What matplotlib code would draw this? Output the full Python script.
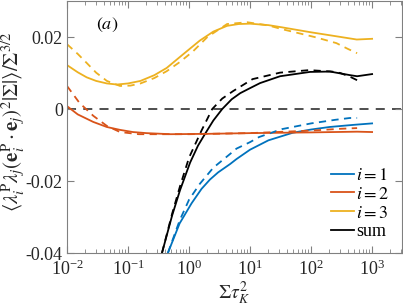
import numpy as np
import matplotlib
matplotlib.use('Agg')
import matplotlib.pyplot as plt

plt.rcParams['font.family'] = ['Liberation Serif', 'DejaVu Serif']
plt.rcParams['mathtext.fontset'] = 'stix'

# values (x = Sigma tau_K^2)
x1 = [0.45, 0.7, 1.1, 1.6, 2.2, 3.0, 4.7, 6.0, 10, 20, 50, 100, 200, 500, 1000]
y1 = [-0.04, -0.0318, -0.0262, -0.0222, -0.0196, -0.0176, -0.0153, -0.0139, -0.0113,
      -0.0087, -0.0066, -0.0057, -0.0050, -0.0044, -0.0040]
x1d = [0.45, 0.7, 1.0, 1.5, 2.5, 4.7, 6.0, 10, 14, 33, 100, 250, 430, 568]
y1d = [-0.04, -0.031, -0.0252, -0.0208, -0.0163, -0.0125, -0.011, -0.0092, -0.0078,
       -0.0056, -0.004, -0.003, -0.0025, -0.0025]

x2 = [0.01, 0.015, 0.027, 0.045, 0.074, 0.12, 0.2, 0.5, 2, 10, 100, 568, 1000]
y2 = [0.0008, -0.0015, -0.0036, -0.0050, -0.0058, -0.0064, -0.0067, -0.0070, -0.0069,
      -0.0067, -0.0065, -0.0063, -0.0064]
x2d = [0.01, 0.016, 0.027, 0.045, 0.074, 0.15, 1, 10, 100, 300, 568]
y2d = [0.0064, 0.0017, -0.0019, -0.0047, -0.0064, -0.0070, -0.0070, -0.0067, -0.006,
       -0.0055, -0.0053]

x3 = [0.01, 0.015, 0.021, 0.03, 0.045, 0.066, 0.1, 0.16, 0.27, 0.43, 0.8, 1.5, 2.5,
      4.2, 6.5, 10, 20, 33, 100, 200, 560, 1000]
y3 = [0.0122, 0.0102, 0.0088, 0.0078, 0.0071, 0.0068, 0.0071, 0.0078, 0.0094, 0.0114,
      0.0152, 0.0190, 0.0215, 0.0231, 0.0236, 0.0237, 0.0233, 0.0227, 0.0213, 0.0205,
      0.0193, 0.0195]
x3d = [0.01, 0.015, 0.021, 0.03, 0.045, 0.074, 0.11, 0.16, 0.27, 0.43, 0.7, 1.16, 2.0,
       4.2, 9, 20, 33, 120, 260, 400, 568]
y3d = [0.018, 0.0153, 0.0128, 0.0101, 0.0078, 0.0064, 0.0065, 0.0071, 0.0086, 0.0105,
       0.0130, 0.0160, 0.0200, 0.0236, 0.0241, 0.0232, 0.0222, 0.0199, 0.0183, 0.0167, 0.0155]

xs = [0.36, 0.53, 0.71, 1.04, 1.4, 1.83, 2.5, 3.5, 5.0, 6.9, 10, 14.6, 31, 96, 204,
      436, 568, 1000]
ys = [-0.04, -0.0295, -0.0226, -0.0149, -0.0102, -0.0069, -0.0032, 0.0, 0.0027, 0.0044,
      0.0058, 0.0072, 0.0091, 0.0103, 0.0104, 0.0094, 0.0091, 0.0097]
xsd = [0.36, 0.53, 0.71, 1.0, 1.6, 2.4, 3.5, 5.3, 11, 31, 93, 220, 300, 430, 568]
ysd = [-0.04, -0.029, -0.0215, -0.0135, -0.006, 0.0, 0.0029, 0.005, 0.0083, 0.0101,
       0.0108, 0.0104, 0.0100, 0.009, 0.008]

blue, red, yellow = '#0072BD', '#D95319', '#EDB120'

fig = plt.figure(figsize=(4.03, 3.07), dpi=100)
ax = fig.add_axes([67 / 403, 54 / 307, 335 / 403, 252 / 307])

ax.axhline(0, color='0.25', lw=1.3, ls=(0, (5, 4)), zorder=1)

lw = 1.3
ax.plot(x1, y1, color=blue, lw=lw, label='$i=1$')
ax.plot(x2, y2, color=red, lw=lw, label='$i=2$')
ax.plot(x3, y3, color=yellow, lw=lw, label='$i=3$')
ax.plot(xs, ys, color='black', lw=lw, label='sum')
ax.plot(x1d, y1d, color=blue, lw=lw, ls=(0, (4, 3)))
ax.plot(x2d, y2d, color=red, lw=lw, ls=(0, (4, 3)))
ax.plot(x3d, y3d, color=yellow, lw=lw, ls=(0, (4, 3)))
ax.plot(xsd, ysd, color='black', lw=lw, ls=(0, (4, 3)))

ax.set_xscale('log')
ax.set_xlim(1e-2, 10 ** 3.49)
ax.set_ylim(-0.04, 0.03)
ax.set_yticks([-0.04, -0.02, 0, 0.02])
ax.set_yticklabels(['-0.04', '-0.02', '0', '0.02'])
ax.set_xticks([1e-2, 1e-1, 1e0, 1e1, 1e2, 1e3])

for s in ax.spines.values():
    s.set_color('0.5')
    s.set_linewidth(0.8)
ax.tick_params(which='both', direction='in', top=True, right=True, color='0.5',
               labelcolor='0.15', labelsize=13)
ax.tick_params(which='major', length=5, width=0.8, pad=3)
ax.tick_params(which='minor', length=2.8, width=0.6)
ax.tick_params(axis='x', which='major', pad=5)

ax.set_xlabel(r'$\Sigma\tau_K^2$', fontsize=14, color='0.15', labelpad=0)
ax.set_ylabel(r'$\langle\lambda_i^{\rm P}\lambda_j(\mathbf{e}_i^{\rm P}\cdot\mathbf{e}_j)^2|\Sigma|\rangle/\Sigma^{3/2}$',
              fontsize=15, color='0.15')
ax.yaxis.set_label_coords(-0.118, 0.52)

ax.text(0.12, 0.905, '$(a)$', transform=ax.transAxes, fontsize=13, ha='center', va='center')

ax.legend(loc='lower right', frameon=False, fontsize=13, handlelength=1.3,
          handletextpad=0.1, labelspacing=0.1, borderaxespad=0.3, bbox_to_anchor=(1.0, 0.0))

fig.savefig('out.png', dpi=100)
